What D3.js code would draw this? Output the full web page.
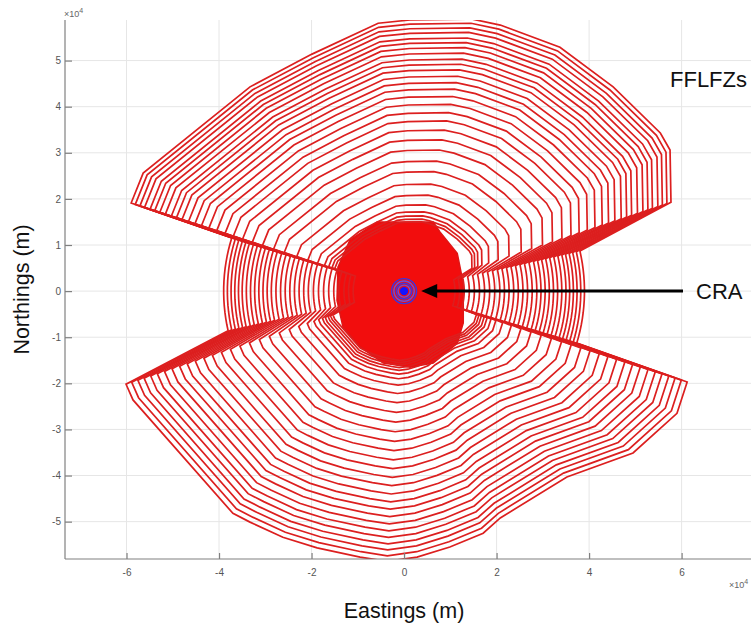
<!DOCTYPE html>
<html><head><meta charset="utf-8">
<script src="https://cdn.jsdelivr.net/npm/d3@7/dist/d3.min.js"></script>
<style>
body{margin:0;background:#fff;}
svg{display:block;font-family:"Liberation Sans",Arial,sans-serif;}
</style>
</head><body>
<svg id="chart" width="751" height="626"></svg>
<script>
// ---------------- data (units of 1e4 m) ----------------
const xTicks = [-6, -4, -2, 0, 2, 4, 6];
const yTicks = [-5, -4, -3, -2, -1, 0, 1, 2, 3, 4, 5];

// outermost FFLFZ outline, upper sector (left -> right)
const upperX = [-5.90, -5.64, -3.33, -1.99, -0.56, 0.13, 1.47, 2.08, 3.37, 4.52, 5.54, 5.75, 5.77];
const upperY = [ 1.91,  2.56,  4.43,  5.14,  5.81, 5.88, 5.90, 5.77, 5.29, 4.43, 3.43, 3.06, 1.93];
// outermost FFLFZ outline, lower sector (left -> right)
const lowerX = [-6.01, -5.86, -3.70, -3.33, -2.62, -1.88, -0.95, -0.37, 0.28, 0.99, 1.71, 2.08, 3.52, 4.95, 5.90, 6.12];
const lowerY = [-2.02, -2.36, -4.82, -5.01, -5.34, -5.57, -5.77, -5.86, -5.77, -5.55, -5.25, -4.92, -4.03, -3.51, -2.65, -1.97];

// reach of each zone: northward (upper sector), southward (lower sector), and in the E-W wedges
const upperReach = [5.90, 5.81, 5.71, 5.61, 5.49, 5.39, 5.28, 5.16, 5.03, 4.92, 4.80, 4.66, 4.52, 4.38, 4.22,
                    4.05, 3.87, 3.69, 3.49, 3.28, 3.06, 2.82, 2.59, 2.32, 2.08, 1.87, 1.72, 1.63, 1.56, 1.50];
const lowerReach = [5.86, 5.74, 5.61, 5.48, 5.34, 5.20, 5.05, 4.89, 4.73, 4.57, 4.40, 4.22, 4.04, 3.85, 3.66,
                    3.46, 3.26, 3.05, 2.84, 2.63, 2.42, 2.22, 2.04, 1.90, 1.80, 1.72, 1.66, 1.60, 1.55, 1.50];
const wedgeReach = [3.90, 3.82, 3.74, 3.66, 3.58, 3.50, 3.41, 3.32, 3.23, 3.14, 3.05, 2.96, 2.87, 2.77, 2.67,
                    2.57, 2.47, 2.37, 2.27, 2.17, 2.07, 1.96, 1.85, 1.74, 1.63, 1.52, 1.41, 1.30, 1.20, 1.10];
// wedge arc limits (degrees): right wedge top/bottom, left wedge bottom/top
const wedgeAngles = [12.9, -16.8, 192.7, 162.8];

// dense core of overlapping zones
const coreX = [-0.58, 0.63, 0.78, 1.15, 1.28, 1.28, 1.15, 0.63, 0.13, -0.45, -0.95, -1.32, -1.45, -1.43, -1.17];
const coreY = [ 1.50, 1.50, 1.28, 0.82, 0.17, -0.69, -1.13, -1.56, -1.65, -1.56, -1.21, -0.78, -0.20, 0.52, 1.11];

// CRA rings
const craRings = [0.27, 0.22, 0.17, 0.13];
const craDot = 0.09;
const arrowFrom = [6.03, 0];
const arrowTo = [0.37, 0];

// ---------------- drawing ----------------
const svg = d3.select("#chart");
const L = 65, R = 751, T = 20, B = 559;
const x = d3.scaleLinear().domain([-7.33, 7.5]).range([L, R]);
const y = d3.scaleLinear().domain([-5.81, 5.88]).range([B, T]);

svg.append("defs").append("clipPath").attr("id", "clip")
  .append("rect").attr("x", L).attr("y", T).attr("width", R - L).attr("height", B - T);

// grid
const grid = svg.append("g").attr("stroke", "#e6e6e6").attr("stroke-width", 1);
grid.selectAll(".gx").data(xTicks).join("line")
  .attr("x1", d => x(d)).attr("x2", d => x(d)).attr("y1", T).attr("y2", B);
grid.selectAll(".gy").data(yTicks).join("line")
  .attr("y1", d => y(d)).attr("y2", d => y(d)).attr("x1", L).attr("x2", R);

const plot = svg.append("g").attr("clip-path", "url(#clip)");

const rad = Math.PI / 180;
function arcPts(r, a0, a1) {
  const pts = [];
  const n = Math.max(2, Math.ceil(Math.abs(a1 - a0) / 2));
  for (let k = 0; k <= n; k++) {
    const a = (a0 + (a1 - a0) * k / n) * rad;
    pts.push([r * Math.cos(a), r * Math.sin(a)]);
  }
  return pts;
}
function zone(i) {
  const su = upperReach[i] / upperReach[0];
  const sl = lowerReach[i] / lowerReach[0];
  const r = wedgeReach[i];
  let pts = [];
  upperX.forEach((vx, k) => pts.push([vx * su, upperY[k] * su]));
  pts = pts.concat(arcPts(r, wedgeAngles[0], wedgeAngles[1]));
  for (let k = lowerX.length - 1; k >= 0; k--) pts.push([lowerX[k] * sl, lowerY[k] * sl]);
  pts = pts.concat(arcPts(r, wedgeAngles[2], wedgeAngles[3]));
  return pts;
}
const line = d3.line().x(d => x(d[0])).y(d => y(d[1]));

// core fill
const corePts = coreX.map((v, k) => [v, coreY[k]]);
plot.append("path").attr("d", line(corePts) + "Z")
  .attr("fill", "#f20d0d").attr("stroke", "#e01515").attr("stroke-width", 1.5);

plot.selectAll(".zone").data(d3.range(upperReach.length)).join("path")
  .attr("d", i => line(zone(i)) + "Z")
  .attr("fill", "none").attr("stroke", "#dc1f1f").attr("stroke-width", 1.7)
  .attr("stroke-linejoin", "miter");

// CRA
plot.selectAll(".cra").data(craRings).join("circle")
  .attr("cx", x(0)).attr("cy", y(0))
  .attr("r", d => x(d) - x(0))
  .attr("fill", "none").attr("stroke", (d, k) => k % 2 ? "#6b4fd8" : "#3b35e0").attr("stroke-width", 1.4);
plot.append("circle").attr("cx", x(0)).attr("cy", y(0)).attr("r", x(craDot) - x(0)).attr("fill", "#1414ff");

// axes
const axisCol = "#808080";
const gx = svg.append("g").attr("transform", `translate(0,${B})`)
  .call(d3.axisBottom(x).tickValues(xTicks).tickSizeInner(-6).tickSizeOuter(0).tickPadding(10).tickFormat(d3.format("d")));
const gy = svg.append("g").attr("transform", `translate(${L},0)`)
  .call(d3.axisLeft(y).tickValues(yTicks).tickSizeInner(-7).tickSizeOuter(0).tickPadding(4).tickFormat(d3.format("d")));
[gx, gy].forEach(g => {
  g.select(".domain").attr("stroke", axisCol).attr("stroke-width", 1.2);
  g.selectAll(".tick line").attr("stroke", axisCol).attr("stroke-width", 1.2);
  g.selectAll(".tick text").attr("fill", "#555").attr("font-size", 10)
    .attr("font-family", "'Liberation Sans',Arial,sans-serif").text(d => d < 0 ? "-" + Math.abs(d) : d);
});
gx.select(".domain").attr("d", `M${L},0H${R}`);
gy.select(".domain").attr("d", `M0,${T}V${B}`);

// exponent labels
function expLabel(px, py) {
  const t = svg.append("text").attr("x", px).attr("y", py).attr("font-size", 9).attr("fill", "#666");
  t.append("tspan").text("\u00d710");
  t.append("tspan").attr("dy", -4).attr("font-size", 7).text("4");
}
expLabel(64, 17);
expLabel(729, 588);

// arrow
svg.append("line")
  .attr("x1", x(arrowFrom[0])).attr("y1", y(arrowFrom[1]))
  .attr("x2", x(arrowTo[0]) + 12).attr("y2", y(arrowTo[1]))
  .attr("stroke", "#000").attr("stroke-width", 3);
const tipX = x(arrowTo[0]), tipY = y(arrowTo[1]);
svg.append("path")
  .attr("d", `M${tipX},${tipY}L${tipX + 16},${tipY - 7}L${tipX + 16},${tipY + 7}Z`)
  .attr("fill", "#000");

// annotations
svg.append("text").attr("x", 670).attr("y", 87).attr("font-size", 22).attr("fill", "#111").text("FFLFZs");
svg.append("text").attr("x", 696).attr("y", 299).attr("font-size", 22).attr("fill", "#111").text("CRA");

// axis titles
svg.append("text").attr("x", 404).attr("y", 618).attr("text-anchor", "middle")
  .attr("font-size", 21.5).attr("fill", "#111").text("Eastings (m)");
svg.append("text").attr("transform", "translate(29,289.5) rotate(-90)").attr("text-anchor", "middle")
  .attr("font-size", 21.5).attr("fill", "#111").text("Northings (m)");
</script>
</body></html>
